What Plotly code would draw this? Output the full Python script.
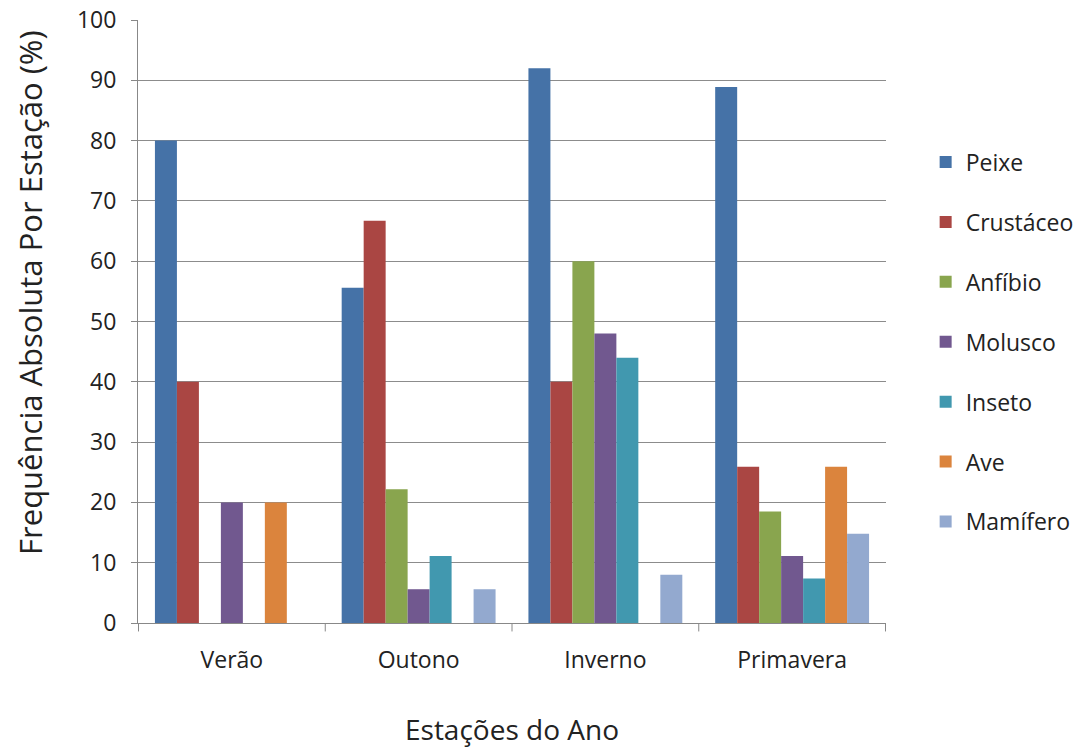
import plotly.graph_objects as go

# Seasons and frequency (%) of each prey group per season
estacoes = ["Verão", "Outono", "Inverno", "Primavera"]
grupos = ["Peixe", "Crustáceo", "Anfíbio", "Molusco", "Inseto", "Ave", "Mamífero"]

peixe = [80.0, 55.6, 92.0, 88.9]
crustaceo = [40.0, 66.7, 40.0, 25.9]
anfibio = [0.0, 22.2, 60.0, 18.5]
molusco = [20.0, 5.6, 48.0, 11.1]
inseto = [0.0, 11.1, 44.0, 7.4]
ave = [20.0, 0.0, 0.0, 25.9]
mamifero = [0.0, 5.6, 8.0, 14.8]

valores = [peixe, crustaceo, anfibio, molusco, inseto, ave, mamifero]
cores = ["#4572A7", "#AA4643", "#89A54E", "#71588F", "#4198AF", "#DB843D", "#93A9CF"]

fonte = "Open Sans"

fig = go.Figure()
for nome, vals, cor in zip(grupos, valores, cores):
    fig.add_trace(go.Bar(
        x=estacoes, y=vals, name=nome, legendgroup=nome,
        marker=dict(color=cor, line=dict(width=0)),
    ))

fig.update_layout(
    width=1078, height=752,
    margin=dict(l=138, r=192, t=20, b=129, autoexpand=False),
    paper_bgcolor="white", plot_bgcolor="white",
    barmode="group", bargap=0.176, bargroupgap=0,
    font=dict(family=fonte, size=23, color="#222222"),
    showlegend=True,
    legend=dict(
        x=1.053, xanchor="left", y=0.800, yanchor="top",
        font=dict(family=fonte, size=23, color="#222222"),
        tracegroupgap=27, itemwidth=30,
        bgcolor="rgba(0,0,0,0)",
    ),
    xaxis=dict(
        showline=True, linecolor="#888888", linewidth=1,
        ticks="outside", ticklen=0, ticklabelstandoff=16,
        tickfont=dict(family=fonte, size=23),
        title=dict(text="Estações do Ano", font=dict(family=fonte, size=28), standoff=46),
        showgrid=False, automargin=False,
    ),
    yaxis=dict(
        range=[0, 100], dtick=10, tick0=0,
        showline=True, linecolor="#888888", linewidth=1,
        ticks="outside", ticklen=6, tickcolor="#888888", ticklabelstandoff=10,
        showgrid=True, gridcolor="#8c8c8c", gridwidth=1,
        tickfont=dict(family=fonte, size=23),
        zeroline=False, automargin=False,
    ),
    annotations=[dict(
        text="Frequência Absoluta Por Estação (%)",
        xref="paper", yref="paper", x=-0.1444, y=0.549,
        xanchor="center", yanchor="middle", textangle=-90,
        showarrow=False, font=dict(family=fonte, size=31, color="#222222"),
    )],
)

# tick marks between the season categories along the x axis
for i in range(len(estacoes) + 1):
    fig.add_shape(
        type="line", xref="x", yref="paper",
        x0=i - 0.5, x1=i - 0.5, y0=0, y1=-0.014,
        line=dict(color="#888888", width=1),
    )

fig.write_html("out.html")
